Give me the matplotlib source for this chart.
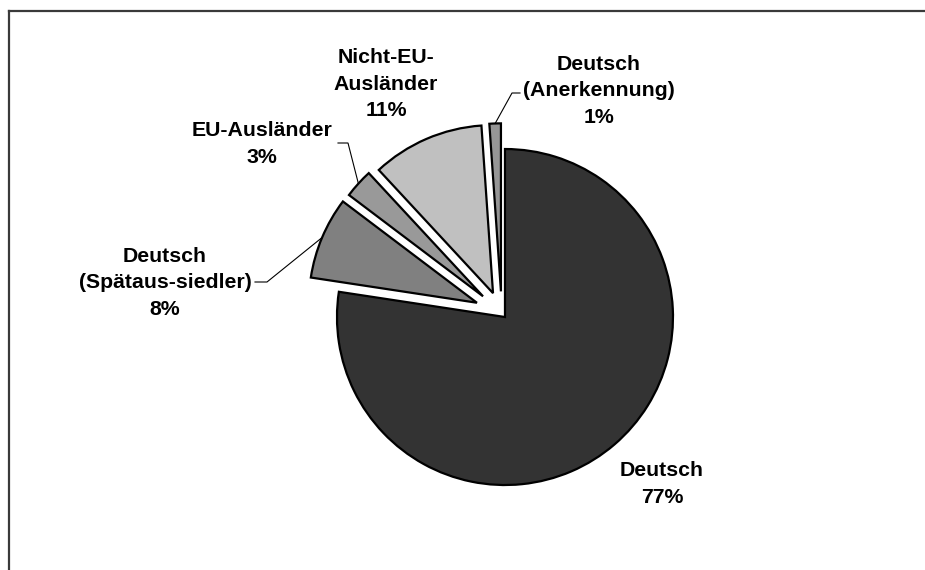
import numpy as np
import matplotlib
matplotlib.use("Agg")
import matplotlib.pyplot as plt
from matplotlib.lines import Line2D

# ---- data ----
labels = ["Deutsch", "Deutsch\n(Spätaus-siedler)", "EU-Ausländer",
          "Nicht-EU-\nAusländer", "Deutsch\n(Anerkennung)"]
values = [77.4, 7.9, 2.8, 10.8, 1.1]
colors = ["#333333", "#808080", "#999999", "#C0C0C0", "#969696"]
explode = [0.03, 0.16, 0.15, 0.13, 0.13]

W, H = 925, 570
PCX, PCY, R = 501.7, 313.2, 168  # pie centre/radius in pixels


def px(x, y):
    """pixel position -> data coords (pie radius = 1, origin at pie centre)"""
    return ((x - PCX) / R, (PCY - y) / R)


fig = plt.figure(figsize=(W / 100, H / 100), dpi=100)
ax = fig.add_axes([0, 0, 1, 1])

wedges, _ = ax.pie(values, colors=colors, explode=explode, startangle=90,
                   counterclock=False, radius=1.0,
                   wedgeprops=dict(edgecolor="black", linewidth=1.6,
                                   joinstyle="miter"))
ax.set_xlim(-PCX / R, (W - PCX) / R)
ax.set_ylim(-(H - PCY) / R, PCY / R)
ax.set_aspect("equal", adjustable="box")
ax.axis("off")

tot = sum(values)
font = dict(family=["Liberation Sans", "DejaVu Sans"], fontweight="bold",
            fontsize=15.3, ha="center", va="center", linespacing=1.5,
            color="black")

# label block centres (pixels)
label_pos = [(662, 484), (165, 283), (262, 144), (386, 84), (599, 91)]
for lab, v, (lx, ly) in zip(labels, values, label_pos):
    ax.text(*px(lx, ly), f"{lab}\n{v / tot * 100:.0f}%", **font)


def arc_point(w):
    th = np.deg2rad((w.theta1 + w.theta2) / 2)
    cx, cy = w.center
    return cx + w.r * np.cos(th), cy + w.r * np.sin(th)


# leader lines: (slice index, text-side start, elbow)
leaders = [(1, (255, 282), (267, 282)),
           (2, (338, 143), (348, 143)),
           (4, (520, 93), (512, 93))]
for idx, p0, p1 in leaders:
    a = px(*p0)
    b = px(*p1)
    c = arc_point(wedges[idx])
    ax.plot([a[0], b[0], c[0]], [a[1], b[1], c[1]], color="black", lw=0.8,
            solid_joinstyle="miter")

# outer chart frame (top and left edges visible)
fx = 9 / W
fy = 1 - 11 / H
fig.add_artist(Line2D([fx, 1.01], [fy, fy], transform=fig.transFigure,
                      color="#3a3a3a", lw=1.6))
fig.add_artist(Line2D([fx, fx], [-0.01, fy], transform=fig.transFigure,
                      color="#3a3a3a", lw=1.6))

fig.savefig("out.png", dpi=100, facecolor="white")
